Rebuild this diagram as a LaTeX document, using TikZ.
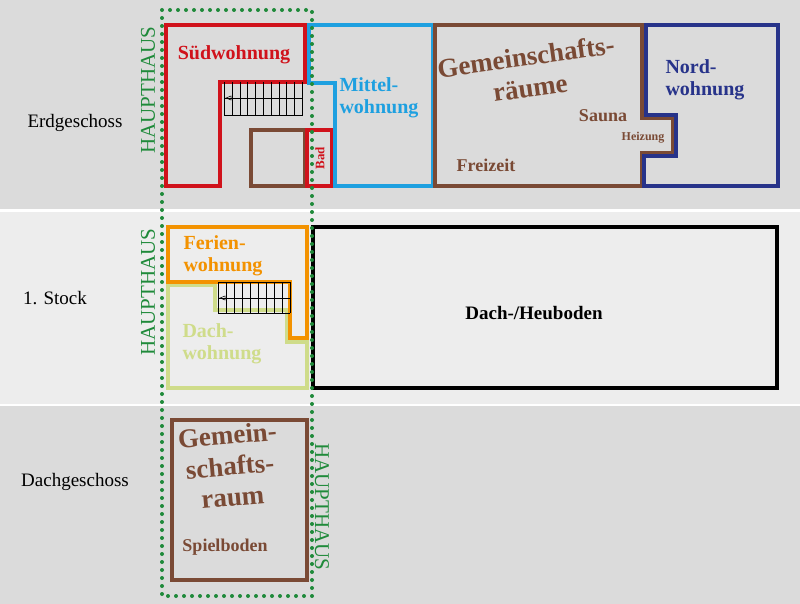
\documentclass[tikz,border=0pt]{standalone}
\usepackage{fontspec}
\setmainfont{Liberation Serif}
\definecolor{cred}{HTML}{D0121B}
\definecolor{cblue}{HTML}{1EA0E0}
\definecolor{cbrown}{HTML}{7A4A35}
\definecolor{cnavy}{HTML}{27338A}
\definecolor{corange}{HTML}{F39200}
\definecolor{clgreen}{HTML}{CFDC8A}
\definecolor{cgreen}{HTML}{1F8A3A}
\newcommand{\fs}[1]{\fontsize{#1}{#1}\selectfont}
\begin{document}
\begin{tikzpicture}[x=1pt,y=-1pt,
  wall/.style={line width=3.4pt,line join=miter},
  lbl/.style={font=\bfseries\fs{20},align=left,inner sep=0},
  floor/.style={font=\fs{19},inner sep=0},
  hh/.style={font=\fs{21},text=cgreen,inner sep=0}]
\useasboundingbox (0,0) rectangle (800,604);
\fill[gray!28] (0,0) rectangle (800,209);
\fill[gray!14] (0,212) rectangle (800,404);
\fill[gray!28] (0,406) rectangle (800,604);
% Erdgeschoss
\draw[wall,cred] (166,25)--(305,25)--(305,82)--(220,82)--(220,186)--(166,186)--cycle;
\draw[wall,cbrown] (251,130) rectangle (305,186);
\draw[wall,cred] (307,130) rectangle (332,186);
\draw[wall,cblue] (309,25)--(433,25)--(433,186)--(335,186)--(335,83)--(309,83)--cycle;
\draw[wall,cbrown] (435,25)--(642,25)--(642,118)--(673,118)--(673,153)--(642,153)--(642,186)--(435,186)--cycle;
\draw[wall,cnavy] (646,25)--(778,25)--(778,186)--(644,186)--(644,156)--(676,156)--(676,115)--(646,115)--cycle;
% stairs EG
\draw[line width=0.9pt] (224,82)--(224,115) (224,115)--(303,115) (224,98)--(303,98);
\foreach \i in {0,...,9} \draw[line width=0.6pt] ({232+\i*7.8},82)--({232+\i*7.8},115);
\draw[line width=0.5pt] (226,98)--(231,96)--(231,100)--cycle;
% 1. Stock
\draw[wall,clgreen] (168,285)--(215,285)--(215,310)--(287,310)--(287,342)--(307,342)--(307,388)--(168,388)--cycle;
\draw[wall,corange] (168,227)--(307,227)--(307,338)--(290,338)--(290,282)--(168,282)--cycle;
\draw[line width=0.9pt] (218,282)--(218,313) (218,313)--(290,313) (218,298)--(290,298) (218,282)--(290,282);
\foreach \i in {0,...,8} \draw[line width=0.6pt] ({226+\i*8},282)--({226+\i*8},313);
\draw[line width=0.5pt] (220,298)--(225,296)--(225,300)--cycle;
\draw[wall,black] (313,227) rectangle (777,388);
% Dachgeschoss
\draw[wall,cbrown] (172,420) rectangle (307,580);
% Haupthaus
\draw[cgreen,line width=4pt,dash pattern=on 0pt off 8pt,line cap=round] (162,10) rectangle (312,596);
\node[hh,rotate=90] (h1) at (148,90) {HAUPTHAUS};
\node[hh,rotate=90] (h2) at (148,292) {HAUPTHAUS};
\node[hh,rotate=-90] (h3) at (322,507) {HAUPTHAUS};
% floor names
\node[floor] (f1) at (75,123) {Erdgeschoss};
\node[floor] (f2) at (55,298) {1. Stock};
\node[floor] (f3) at (75,482) {Dachgeschoss};
% labels
\node[lbl,text=cred] (sud) at (234,55) {Südwohnung};
\node[lbl,text=cred,rotate=90,font=\bfseries\fs{13}] (bad) at (320,158) {Bad};
\node[lbl,text=cblue] (mit) at (379,98) {Mittel-\\[2pt]wohnung};
\node[lbl,text=cbrown,font=\bfseries\fs{27},rotate=8,align=center] (gem) at (528,72) {Gemeinschafts-\\[4pt]räume};
\node[lbl,text=cbrown,font=\bfseries\fs{18}] (sau) at (603,116) {Sauna};
\node[lbl,text=cbrown,font=\bfseries\fs{12}] (hei) at (643,138) {Heizung};
\node[lbl,text=cbrown,font=\bfseries\fs{18}] (fre) at (486,165) {Freizeit};
\node[lbl,text=cnavy] (nor) at (705,80) {Nord-\\[2pt]wohnung};
\node[lbl,text=corange] (fer) at (223,256) {Ferien-\\[2pt]wohnung};
\node[lbl,text=clgreen] (dach) at (222,344) {Dach-\\[2pt]wohnung};
\node[lbl,font=\bfseries\fs{19}] (heu) at (534,313) {Dach-/Heuboden};
\node[lbl,text=cbrown,font=\bfseries\fs{27},rotate=5,align=center] (gr) at (230,466) {Gemein-\\[4pt]schafts-\\[4pt]raum};
\node[lbl,text=cbrown,font=\bfseries\fs{18}] (spi) at (225,547) {Spielboden};
\end{tikzpicture}
\end{document}
